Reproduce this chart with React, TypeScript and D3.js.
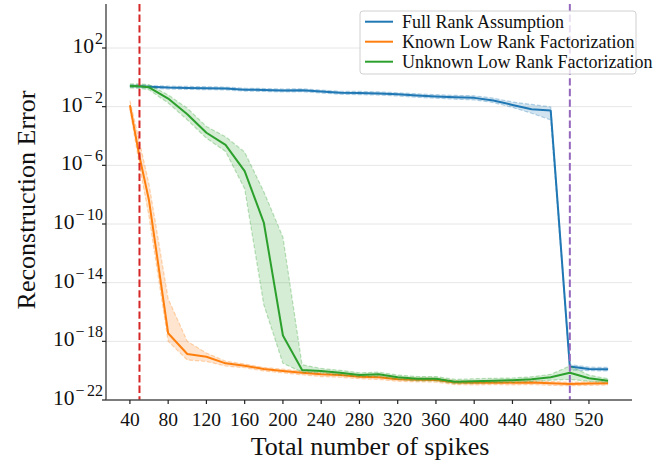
import React from 'react';
import * as d3 from 'd3';

// x positions (total number of spikes)
const spikes = [40, 50, 60, 80, 100, 120, 140, 160, 180, 200, 220, 240, 260, 280, 300, 320, 340, 360, 380, 400, 420, 440, 460, 480, 500, 520, 540];

// log10 of reconstruction error
const fullRankMean = [-0.59, -0.6, -0.64, -0.7, -0.72, -0.74, -0.76, -0.84, -0.86, -0.9, -0.88, -0.97, -1.05, -1.07, -1.1, -1.16, -1.24, -1.3, -1.36, -1.4, -1.58, -1.88, -2.17, -2.26, -19.72, -19.88, -19.9];
const fullRankHi = [-0.5, -0.5, -0.55, -0.6, -0.62, -0.64, -0.66, -0.74, -0.76, -0.8, -0.78, -0.87, -0.95, -0.96, -0.99, -1.05, -1.12, -1.18, -1.23, -1.26, -1.42, -1.68, -1.85, -2.02, -19.58, -19.76, -19.78];
const fullRankLo = [-0.68, -0.7, -0.74, -0.8, -0.82, -0.84, -0.86, -0.94, -0.96, -1.0, -0.98, -1.07, -1.15, -1.18, -1.21, -1.27, -1.36, -1.42, -1.49, -1.54, -1.72, -2.05, -2.45, -2.9, -19.95, -20.0, -20.02];

const knownMean = [-1.9, -5.4, -8.4, -17.45, -18.86, -19.05, -19.5, -19.66, -19.89, -20.02, -20.14, -20.25, -20.3, -20.41, -20.45, -20.59, -20.62, -20.64, -20.8, -20.82, -20.8, -20.82, -20.8, -20.86, -20.91, -20.88, -20.86];
const knownHi = [-1.6, -4.4, -7.3, -15.1, -18.0, -18.8, -19.35, -19.55, -19.78, -19.9, -20.02, -20.12, -20.18, -20.3, -20.33, -20.47, -20.5, -20.52, -20.68, -20.7, -20.68, -20.7, -20.68, -20.74, -20.79, -20.76, -20.74];
const knownLo = [-2.15, -6.0, -9.5, -18.0, -19.27, -19.37, -19.68, -19.8, -20.02, -20.15, -20.28, -20.4, -20.45, -20.55, -20.6, -20.72, -20.76, -20.78, -20.95, -20.97, -20.95, -20.97, -20.95, -21.0, -21.03, -21.0, -20.98];

const unknownMean = [-0.59, -0.6, -0.68, -1.45, -2.52, -3.78, -4.61, -6.4, -9.9, -17.6, -19.95, -20.02, -20.15, -20.3, -20.25, -20.45, -20.55, -20.55, -20.75, -20.72, -20.68, -20.65, -20.58, -20.45, -20.14, -20.52, -20.68];
const unknownHi = [-0.45, -0.45, -0.5, -1.2, -2.1, -3.35, -4.05, -5.1, -7.8, -10.9, -19.6, -19.85, -19.98, -20.15, -20.1, -20.3, -20.4, -20.4, -20.6, -20.55, -20.52, -20.5, -20.42, -20.25, -19.68, -20.3, -20.55];
const unknownLo = [-0.72, -0.75, -0.85, -1.75, -2.9, -4.15, -5.05, -7.6, -15.5, -19.5, -20.1, -20.15, -20.3, -20.42, -20.4, -20.6, -20.7, -20.7, -20.88, -20.86, -20.82, -20.8, -20.74, -20.65, -20.6, -20.72, -20.8];

const seriesNames = ['Full Rank Assumption', 'Known Low Rank Factorization', 'Unknown Low Rank Factorization'];
const seriesColors = ['#1f77b4', '#ff7f0e', '#2ca02c'];

const xTicks = [40, 80, 120, 160, 200, 240, 280, 320, 360, 400, 440, 480, 520];
const yTickExps = [2, -2, -6, -10, -14, -18, -22];
const vLines = [{ x: 50, color: '#d62728' }, { x: 500, color: '#9467bd' }];

const FONT = '"Liberation Serif", "DejaVu Serif", serif';

export default function App() {
  const W = 668;
  const H = 462;
  const left = 106;
  const right = 632;
  const top = 4;
  const bottom = 400;

  const x = d3.scaleLinear().domain([15, 565]).range([left, right]);
  const y = d3.scaleLog().domain([1e-22, 1e5]).range([bottom, top]);

  const series = [
    { mean: fullRankMean, hi: fullRankHi, lo: fullRankLo },
    { mean: knownMean, hi: knownHi, lo: knownLo },
    { mean: unknownMean, hi: unknownHi, lo: unknownLo },
  ];

  const line = d3
    .line<number>()
    .x((_, i) => x(spikes[i]))
    .y((d) => y(Math.pow(10, d)));

  const area = (hi: number[], lo: number[]) =>
    d3
      .area<number>()
      .x((_, i) => x(spikes[i]))
      .y0((_, i) => y(Math.pow(10, lo[i])))
      .y1((_, i) => y(Math.pow(10, hi[i])))(hi) || '';

  return (
    <svg width={W} height={H} style={{ position: 'absolute', left: 0, top: 0 }} fontFamily={FONT}>
      <rect width={W} height={H} fill="#fff" />

      {/* grid */}
      {yTickExps.map((e) => (
        <line key={e} x1={left} x2={right} y1={y(Math.pow(10, e))} y2={y(Math.pow(10, e))} stroke="#e6e6e6" strokeWidth={1} />
      ))}

      {/* bands and lines */}
      {series.map((s, k) => (
        <g key={k}>
          <path d={area(s.hi, s.lo)} fill={seriesColors[k]} fillOpacity={0.2} stroke="none" />
          <path d={line(s.hi) || ''} fill="none" stroke={seriesColors[k]} strokeOpacity={0.3} strokeWidth={1.2} strokeDasharray="4,2" />
          <path d={line(s.lo) || ''} fill="none" stroke={seriesColors[k]} strokeOpacity={0.3} strokeWidth={1.2} strokeDasharray="4,2" />
          <path d={line(s.mean) || ''} fill="none" stroke={seriesColors[k]} strokeWidth={2} strokeLinejoin="round" />
        </g>
      ))}

      {/* vertical markers */}
      {vLines.map((v) => (
        <line key={v.x} x1={x(v.x)} x2={x(v.x)} y1={top} y2={bottom} stroke={v.color} strokeWidth={2} strokeDasharray="7.4,3.2" />
      ))}

      {/* spines */}
      <line x1={left} x2={left} y1={top} y2={bottom} stroke="#555" strokeWidth={1.5} />
      <line x1={left} x2={right} y1={bottom} y2={bottom} stroke="#555" strokeWidth={1.5} />

      {/* x ticks */}
      {xTicks.map((t) => (
        <g key={t} transform={`translate(${x(t)},${bottom})`}>
          <line y1={0} y2={4} stroke="#222" strokeWidth={1.2} />
          <text y={26} textAnchor="middle" fontSize={19.5} fill="#111">
            {t}
          </text>
        </g>
      ))}

      {/* y ticks: 10^e */}
      {yTickExps.map((e) => (
        <g key={e} transform={`translate(${left},${y(Math.pow(10, e))})`}>
          <line x1={-4} x2={0} stroke="#222" strokeWidth={1.2} />
          {e < 0 ? (
            <text x={-3} y={5} textAnchor="end" fontSize={21.5} fill="#111">
              10
              <tspan fontSize={16} dx={1} dy={-9}>
                {'\u2212'}
              </tspan>
              <tspan fontSize={16} dx={2.5}>
                {-e}
              </tspan>
            </text>
          ) : (
            <text x={-3} y={5} textAnchor="end" fontSize={21.5} fill="#111">
              10
              <tspan fontSize={16} dx={1} dy={-9}>
                {e}
              </tspan>
            </text>
          )}
        </g>
      ))}

      {/* axis labels */}
      <text x={370} y={455} textAnchor="middle" fontSize={26} fill="#111">
        Total number of spikes
      </text>
      <text transform="translate(35,200) rotate(-90)" textAnchor="middle" fontSize={26} fill="#111">
        Reconstruction Error
      </text>

      {/* legend */}
      <g>
        <rect x={360} y={11} width={276} height={63} rx={3} fill="#fff" fillOpacity={0.8} stroke="#d0d0d0" strokeWidth={1} />
        {seriesNames.map((n, i) => (
          <g key={n} transform={`translate(365,${21.7 + i * 20})`}>
            <line x1={0} x2={28} stroke={seriesColors[i]} strokeWidth={2} />
            <text x={37} y={6} fontSize={18} fill="#111">
              {n}
            </text>
          </g>
        ))}
      </g>
    </svg>
  );
}
